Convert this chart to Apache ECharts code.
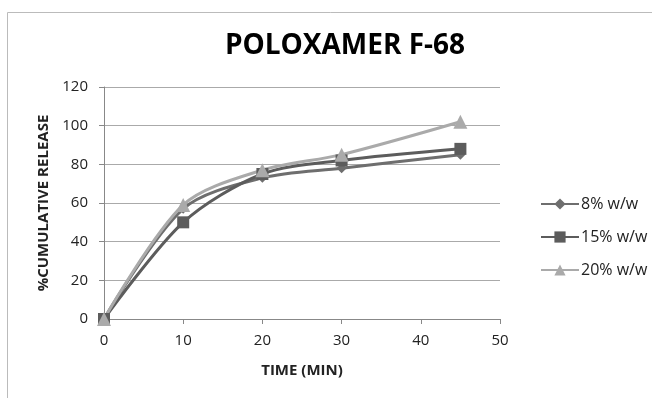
<!DOCTYPE html>
<html>
<head>
<meta charset="utf-8">
<script src="https://cdn.jsdelivr.net/npm/echarts@6/dist/echarts.min.js"></script>
<style>
  html, body { margin: 0; padding: 0; background: #fff; }
  #chart { width: 652px; height: 398px; }
</style>
</head>
<body>
<div id="chart"></div>
<script>
const times = [0, 10, 20, 30, 45];
const pct8 = [0, 57, 73, 78, 85];
const pct15 = [0, 50, 75, 82, 88];
const pct20 = [0, 59, 77, 85, 102];
const seriesNames = ["8% w/w", "15% w/w", "20% w/w"];

const pairs = vals => times.map((t, i) => [t, vals[i]]);

const chart = echarts.init(document.getElementById("chart"));
const font = "'Open Sans', 'Liberation Sans', sans-serif";

chart.setOption({
  backgroundColor: "#fff",
  graphic: [{
    type: "rect",
    shape: { x: 7.5, y: 12.5, width: 660, height: 400 },
    style: { fill: "none", stroke: "#bbb", lineWidth: 1 },
    silent: true
  }],
  title: {
    text: "POLOXAMER F-68",
    left: 340,
    top: 27,
    textAlign: "center",
    textStyle: { fontFamily: font, fontSize: 28, fontWeight: "bold", color: "#000" }
  },
  legend: {
    data: seriesNames,
    orient: "vertical",
    left: 535,
    top: 191,
    itemGap: 17,
    itemWidth: 38,
    itemHeight: 14,
    textStyle: { fontFamily: font, fontSize: 16, color: "#222", padding: [0, 0, 0, -3] }
  },
  grid: { left: 104, right: 152, top: 87, bottom: 79 },
  xAxis: {
    type: "value",
    min: 0,
    max: 50,
    interval: 10,
    name: "TIME (MIN)",
    nameLocation: "middle",
    nameGap: 44,
    nameTextStyle: { fontFamily: font, fontSize: 15, fontWeight: "bold", color: "#222" },
    axisLine: { lineStyle: { color: "#888" } },
    axisTick: { show: true, length: 5, lineStyle: { color: "#888" } },
    axisLabel: { fontFamily: font, fontSize: 15, color: "#222", margin: 14 },
    splitLine: { show: false }
  },
  yAxis: {
    type: "value",
    min: 0,
    max: 120,
    interval: 20,
    name: "%CUMULATIVE RELEASE",
    nameLocation: "middle",
    nameGap: 50,
    nameTextStyle: { fontFamily: font, fontSize: 15, fontWeight: "bold", color: "#222" },
    axisLine: { show: true, lineStyle: { color: "#888" } },
    axisTick: { show: true, length: 5, lineStyle: { color: "#888" } },
    axisLabel: { fontFamily: font, fontSize: 15, color: "#222", margin: 16 },
    splitLine: { lineStyle: { color: "#aaa" } }
  },
  series: [
    {
      name: seriesNames[0],
      type: "line",
      smooth: 0.3,
      data: pairs(pct8),
      symbol: "diamond",
      symbolSize: 10,
      lineStyle: { width: 3, color: "#6e6e6e" },
      itemStyle: { color: "#6e6e6e" }
    },
    {
      name: seriesNames[1],
      type: "line",
      smooth: 0.3,
      data: pairs(pct15),
      symbol: "rect",
      symbolSize: 12,
      lineStyle: { width: 3, color: "#5c5c5c" },
      itemStyle: { color: "#5c5c5c" }
    },
    {
      name: seriesNames[2],
      type: "line",
      smooth: 0.3,
      data: pairs(pct20),
      symbol: "triangle",
      symbolSize: 14,
      lineStyle: { width: 3, color: "#aaaaaa" },
      itemStyle: { color: "#aaaaaa" }
    }
  ]
});
</script>
</body>
</html>
